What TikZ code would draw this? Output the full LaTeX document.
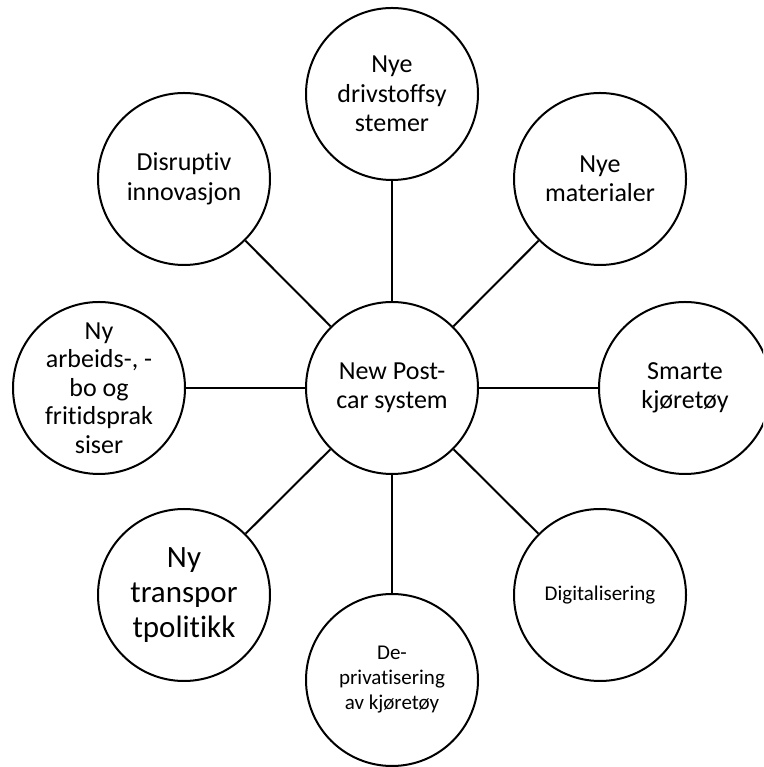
\documentclass[tikz,border=0pt]{standalone}
\usepackage{fontspec}
\setmainfont{Carlito}[Ligatures=NoCommon]
\begin{document}
\begin{tikzpicture}[x=1pt,y=1pt,
  bubble/.style={circle,draw=black,line width=2pt,minimum size=172pt,inner sep=0pt,align=center,font=\fontsize{26}{29.5}\selectfont},
  spoke/.style={draw=black,line width=2pt}]
\clip (0,0) rectangle (763,767);
\fill[white] (0,0) rectangle (763,767);
\node[bubble] (C) at (392,379) {New Post-\\car system};
\node[bubble] (T) at (392,673) {Nye\\drivstoffsy\\stemer};
\node[bubble] (TR) at (600,588) {Nye\\materialer};
\node[bubble] (R) at (685,379) {Smarte\\kjøretøy};
\node[bubble,font=\fontsize{21}{25}\selectfont] (BR) at (600,172) {Digitalisering};
\node[bubble,font=\fontsize{21}{25}\selectfont] (B) at (392,87) {De-\\privatisering\\av kjøretøy};
\node[bubble,font=\fontsize{31}{35}\selectfont] (BL) at (184,172) {Ny\\transpor\\tpolitikk};
\node[bubble,font=\fontsize{26}{28.5}\selectfont] (L) at (99,379) {Ny\\arbeids-, -\\bo og\\fritidsprak\\siser};
\node[bubble] (TL) at (184,588) {Disruptiv\\innovasjon};
\foreach \n in {T,TR,R,BR,B,BL,L,TL} {\draw[spoke] (C) -- (\n);}
\end{tikzpicture}
\end{document}
